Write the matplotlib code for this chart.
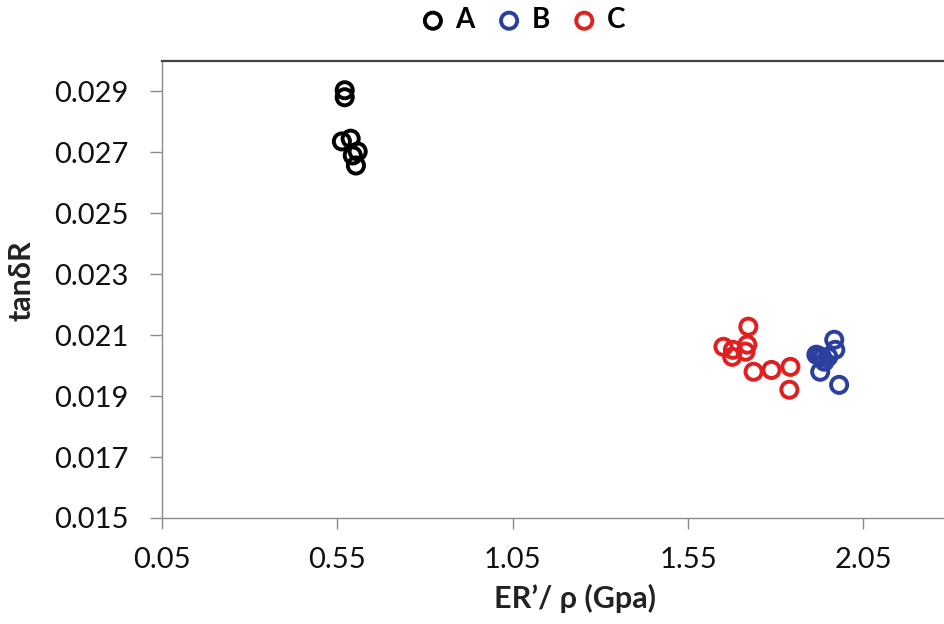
import matplotlib
matplotlib.use("Agg")
import matplotlib.pyplot as plt
import numpy as np

plt.rcParams['font.family'] = ['Lato', 'DejaVu Sans']

# Data
a_x = [0.571, 0.571, 0.563, 0.588, 0.608, 0.594, 0.603]
a_y = [0.02904, 0.02881, 0.02736, 0.02745, 0.02703, 0.02690, 0.02657]

b_x = [1.967, 1.970, 1.916, 1.924, 1.933, 1.939, 1.950, 1.927, 1.981]
b_y = [0.02085, 0.02052, 0.02036, 0.02032, 0.02026, 0.02013, 0.02029, 0.01980, 0.01937]

c_x = [1.722, 1.651, 1.678, 1.719, 1.676, 1.737, 1.788, 1.842, 1.839, 1.714]
c_y = [0.02128, 0.02062, 0.02052, 0.02069, 0.02029, 0.01980, 0.01986, 0.01996, 0.01921, 0.02046]

series_names = ['A', 'B', 'C']
series_colors = ['#000000', '#2B3F9E', '#E02020']

x_ticks = [0.05, 0.55, 1.05, 1.55, 2.05]
y_ticks = [0.015, 0.017, 0.019, 0.021, 0.023, 0.025, 0.027, 0.029]

fig = plt.figure(figsize=(9.44, 6.24), dpi=100)
ax = fig.add_axes([162/944, 1 - 518/624, 1 - 162/944, (518 - 61)/624])

for xs, ys, name, col in zip([a_x, b_x, c_x], [a_y, b_y, c_y], series_names, series_colors):
    ax.scatter(xs, ys, s=135, facecolors='none', edgecolors=col, linewidths=2.8,
               label=name, zorder=3)

ax.set_xlim(0.05, 2.28)
ax.set_ylim(0.015, 0.030)
ax.set_xticks(x_ticks)
ax.set_xticklabels([f"{v:.2f}" for v in x_ticks])
ax.set_yticks(y_ticks)
ax.set_yticklabels([f"{v:.3f}" for v in y_ticks])

for s in ['left', 'bottom']:
    ax.spines[s].set_color('#8a8a8a')
    ax.spines[s].set_linewidth(1.0)
ax.spines['top'].set_color('#444444')
ax.spines['top'].set_linewidth(1.6)
ax.spines['right'].set_visible(False)

ax.tick_params(axis='y', direction='out', length=9, width=1, color='#8a8a8a',
               labelsize=21, pad=15, labelcolor='#111111')
ax.tick_params(axis='x', direction='out', length=8, width=1, color='#8a8a8a',
               labelsize=21, pad=13, labelcolor='#111111')

ax.set_xlabel("ER\u2019/ \u03c1 (Gpa)", fontsize=22, fontweight='bold', color='#222222')
ax.xaxis.set_label_coords((575 - 162) / (944 - 162), -0.145)
ax.set_ylabel("tan\u03b4R", fontsize=22, fontweight='bold', color='#222222')
ax.yaxis.set_label_coords(-0.162, 0.52)

fig.legend(loc='center', bbox_to_anchor=(522/944, 1 - 20/624), ncol=3, frameon=False,
           prop={'weight': 'bold', 'size': 20}, handlelength=1.0, handletextpad=0.3,
           columnspacing=0.75, markerscale=1.0)

fig.savefig("out.png", dpi=100)
